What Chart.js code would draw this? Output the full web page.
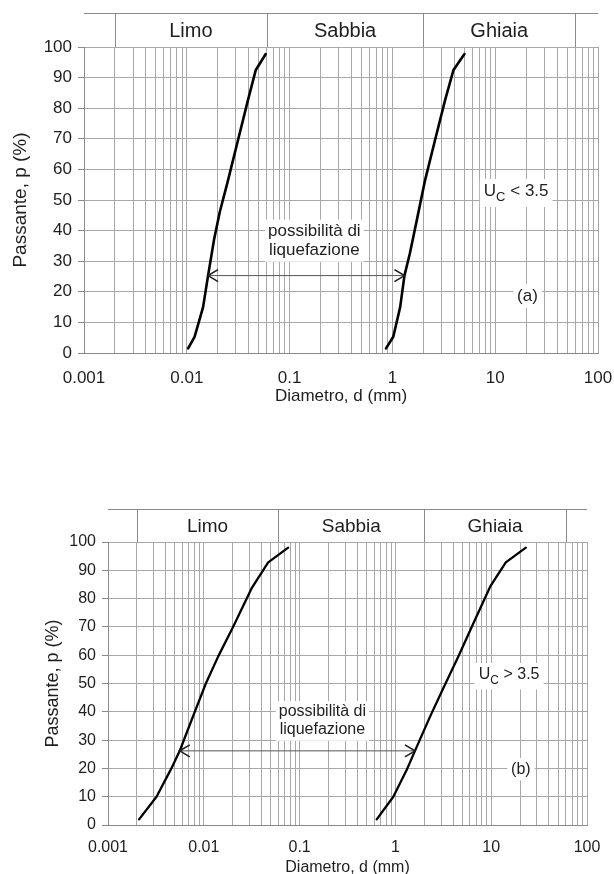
<!DOCTYPE html>
<html>
<head>
<meta charset="utf-8">
<script src="https://cdn.jsdelivr.net/npm/chart.js@4.4.1/dist/chart.umd.min.js"></script>
<style>
  html, body { margin: 0; padding: 0; background: #fff; overflow: hidden; }
  #wrap-a { position: absolute; left: 0; top: 0; width: 614px; height: 440px; }
  #wrap-b { position: absolute; left: 0; top: 440px; width: 614px; height: 440px; }
</style>
</head>
<body>
<div id="wrap-a"><canvas id="chart-a" width="614" height="440"></canvas></div>
<div id="wrap-b"><canvas id="chart-b" width="614" height="440"></canvas></div>
<script>
// asse x (log) e asse y
const xDecades = [0.001, 0.01, 0.1, 1, 10, 100];
const xTickLabels = ["0.001", "0.01", "0.1", "1", "10", "100"];
const xMinorSteps = [1, 2, 3, 4, 5, 6, 7, 8, 9];
const yTicks = [0, 10, 20, 30, 40, 50, 60, 70, 80, 90, 100];

// fasce granulometriche in testata
const classBounds = [0.002, 0.06, 2, 60];
const classNames = ["Limo", "Sabbia", "Ghiaia"];

// (a) Uc < 3.5 : fuso fine e fuso grosso
const aFineD = [0.0103, 0.0119, 0.0144, 0.0161, 0.0184, 0.0209, 0.0252, 0.0315, 0.0394, 0.0469, 0.0586];
const aFineP = [1.5, 5.3, 15, 25.3, 37, 46, 56.5, 69.6, 82.7, 92.5, 97.7];
const aCoarseD = [0.867, 1.02, 1.19, 1.31, 1.48, 1.73, 2.08, 2.6, 3.26, 3.93, 5.02];
const aCoarseP = [1.5, 5.3, 15, 25.3, 32.6, 43.5, 56.5, 69.6, 82.7, 92.5, 97.7];
const aArrowD = [0.0161, 1.31];
const aArrowP = 25.3;

// (b) Uc > 3.5
const bFineD = [0.00211, 0.00321, 0.00459, 0.00561, 0.00649, 0.00805, 0.0105, 0.0141, 0.0202, 0.0315, 0.047, 0.076];
const bFineP = [2, 10, 20, 26.2, 31.8, 40, 50, 59.5, 70, 83.6, 92.8, 98];
const bCoarseD = [0.638, 0.951, 1.31, 1.6, 2.3, 3.16, 4.54, 6.52, 9.75, 14.2, 23.0];
const bCoarseP = [2, 10, 19.4, 26.2, 38.3, 48.3, 59.5, 71.3, 84.2, 92.8, 98];
const bArrowD = [0.00561, 1.6];
const bArrowP = 26.2;

// testi
const liqLines = ["possibilità di", "liquefazione"];
const aUcRest = " < 3.5";
const bUcRest = " > 3.5";
const aTag = "(a)";
const bTag = "(b)";

const FONT = '"Liberation Sans", Arial, Helvetica, sans-serif';
const GRID = "#a8a8a8";
const AXIS = "#8a8a8a";
const INK = "#1e1e1e";

// griglia log: 1..9 per ogni decade + 100
const xGridValues = [];
xDecades.slice(0, -1).forEach((dec) => {
  xMinorSteps.forEach((k) => xGridValues.push(+(k * dec).toPrecision(6)));
});
xGridValues.push(xDecades[xDecades.length - 1]);

function decadeLabel(v) {
  const i = xDecades.findIndex((d) => Math.abs(d - v) / d < 1e-6);
  return i >= 0 ? xTickLabels[i] : "";
}

function pairs(ds, ps) {
  return ds.map((d, i) => ({ x: d, y: ps[i] }));
}

/** testata Limo / Sabbia / Ghiaia */
const classHeader = {
  id: "classHeader",
  afterDraw(chart, args, opts) {
    const { ctx, chartArea } = chart;
    const sx = chart.scales.x;
    const top = chartArea.top - opts.height;
    ctx.save();
    ctx.strokeStyle = AXIS;
    ctx.lineWidth = 1;
    ctx.beginPath();
    ctx.moveTo(chartArea.left, top + 0.5);
    ctx.lineTo(chartArea.right, top + 0.5);
    classBounds.forEach((b) => {
      const px = Math.round(sx.getPixelForValue(b)) + 0.5;
      ctx.moveTo(px, top);
      ctx.lineTo(px, chartArea.top);
    });
    ctx.stroke();
    ctx.fillStyle = INK;
    ctx.font = `${opts.fontSize}px ${FONT}`;
    ctx.textAlign = "center";
    ctx.textBaseline = "middle";
    classNames.forEach((name, i) => {
      const cx = (sx.getPixelForValue(classBounds[i]) + sx.getPixelForValue(classBounds[i + 1])) / 2;
      ctx.fillText(name, cx, top + opts.height / 2 + 1);
    });
    ctx.restore();
  },
};

/** frecce e scritte sopra il grafico */
const notes = {
  id: "notes",
  afterDatasetsDraw(chart, args, opts) {
    const { ctx } = chart;
    const sx = chart.scales.x;
    const sy = chart.scales.y;
    const fs = opts.fontSize;
    ctx.save();

    // punte di freccia aperte
    const ay = sy.getPixelForValue(opts.arrowP);
    const x0 = sx.getPixelForValue(opts.arrowD[0]);
    const x1 = sx.getPixelForValue(opts.arrowD[1]);
    ctx.strokeStyle = INK;
    ctx.lineWidth = 1.6;
    ctx.lineJoin = "miter";
    ctx.beginPath();
    ctx.moveTo(x0 + 10, ay - 6);
    ctx.lineTo(x0, ay);
    ctx.lineTo(x0 + 10, ay + 6);
    ctx.moveTo(x1 - 10, ay - 6);
    ctx.lineTo(x1, ay);
    ctx.lineTo(x1 - 10, ay + 6);
    ctx.stroke();

    ctx.font = `${fs}px ${FONT}`;
    ctx.textBaseline = "middle";
    ctx.textAlign = "left";

    // "possibilità di / liquefazione"
    const lh = fs * 1.12;
    const lcx = sx.getPixelForValue(opts.liqAt[0]);
    const lcy = sy.getPixelForValue(opts.liqAt[1]);
    const lw = Math.max(...liqLines.map((t) => ctx.measureText(t).width));
    ctx.fillStyle = "#fff";
    ctx.fillRect(lcx - lw / 2 - 3, lcy - lh - 2, lw + 6, lh * 2 + 4);
    ctx.fillStyle = INK;
    ctx.textAlign = "center";
    liqLines.forEach((t, i) => {
      ctx.fillText(t, lcx, lcy + (i - 0.5) * lh);
    });

    // U_C < 3.5
    const ucx = sx.getPixelForValue(opts.ucAt[0]);
    const ucy = sy.getPixelForValue(opts.ucAt[1]);
    const subFs = Math.round(fs * 0.78);
    ctx.textAlign = "left";
    const wU = ctx.measureText("U").width;
    const wR = ctx.measureText(opts.ucRest).width;
    ctx.font = `${subFs}px ${FONT}`;
    const wC = ctx.measureText("C").width;
    const tot = wU + wC + wR;
    let ux = ucx - tot / 2;
    ctx.fillStyle = "#fff";
    ctx.fillRect(ux - 4, ucy - fs * 0.75, tot + 8, fs * 1.65);
    ctx.fillStyle = INK;
    ctx.font = `${fs}px ${FONT}`;
    ctx.fillText("U", ux, ucy);
    ctx.font = `${subFs}px ${FONT}`;
    ctx.fillText("C", ux + wU, ucy + fs * 0.36);
    ctx.font = `${fs}px ${FONT}`;
    ctx.fillText(opts.ucRest, ux + wU + wC, ucy);

    // (a) / (b)
    const tx = sx.getPixelForValue(opts.tagAt[0]);
    const ty = sy.getPixelForValue(opts.tagAt[1]);
    const tw = ctx.measureText(opts.tag).width;
    ctx.fillStyle = "#fff";
    ctx.fillRect(tx - tw / 2 - 4, ty - fs * 0.7, tw + 8, fs * 1.4);
    ctx.fillStyle = INK;
    ctx.textAlign = "center";
    ctx.fillText(opts.tag, tx, ty);

    ctx.restore();
  },
};

function makeChart(canvasId, cfg) {
  const tickFont = { family: FONT, size: cfg.fontSize, lineHeight: 1.2 };
  const yTitleFont = { family: FONT, size: cfg.yTitleFont, lineHeight: 1.2 };
  const ctx = document.getElementById(canvasId).getContext("2d");
  return new Chart(ctx, {
    type: "scatter",
    data: {
      datasets: [
        {
          label: "fine",
          data: pairs(cfg.fineD, cfg.fineP),
          showLine: true,
          borderColor: "#000",
          borderWidth: cfg.curveWidth,
          pointRadius: 0,
          borderJoinStyle: "round",
          borderCapStyle: "round",
        },
        {
          label: "grosso",
          data: pairs(cfg.coarseD, cfg.coarseP),
          showLine: true,
          borderColor: "#000",
          borderWidth: cfg.curveWidth,
          pointRadius: 0,
          borderJoinStyle: "round",
          borderCapStyle: "round",
        },
        {
          label: "freccia",
          data: pairs(cfg.arrowD, cfg.arrowD.map(() => cfg.arrowP)),
          showLine: true,
          borderColor: "#555",
          borderWidth: 1,
          pointRadius: 0,
        },
      ],
    },
    options: {
      responsive: false,
      animation: false,
      devicePixelRatio: 1,
      layout: { padding: cfg.padding },
      scales: {
        x: {
          type: "logarithmic",
          position: "bottom",
          min: 0.001,
          max: 100,
          afterBuildTicks: (s) => {
            s.ticks = xGridValues.map((v) => ({ value: v }));
          },
          afterFit: (s) => {
            s.height = cfg.xAxisHeight;
            s.paddingLeft = 0;
            s.paddingRight = 0;
          },
          grid: {
            color: GRID,
            lineWidth: 1,
            drawTicks: true,
            tickLength: cfg.xTickGap,
            tickColor: "rgba(0,0,0,0)",
          },
          border: { display: true, color: AXIS },
          ticks: {
            autoSkip: false,
            maxRotation: 0,
            minRotation: 0,
            padding: 0,
            color: INK,
            font: tickFont,
            callback: (v) => decadeLabel(v),
          },
          title: {
            display: true,
            text: "Diametro, d (mm)",
            color: INK,
            font: tickFont,
            padding: { top: 0, bottom: 0 },
          },
        },
        y: {
          type: "linear",
          min: 0,
          max: 100,
          afterBuildTicks: (s) => {
            s.ticks = yTicks.map((v) => ({ value: v }));
          },
          afterFit: (s) => {
            s.width = cfg.yAxisWidth;
            s.paddingTop = 0;
            s.paddingBottom = 0;
          },
          grid: {
            color: GRID,
            lineWidth: 1,
            drawTicks: true,
            tickLength: 6,
            tickColor: AXIS,
          },
          border: { display: true, color: AXIS },
          ticks: {
            padding: 6,
            color: INK,
            font: tickFont,
            callback: (v) => String(v),
          },
          title: {
            display: true,
            text: "Passante, p (%)",
            color: INK,
            font: yTitleFont,
            padding: { top: cfg.yTitlePad, bottom: 0 },
          },
        },
      },
      plugins: {
        legend: { display: false },
        tooltip: { enabled: false },
        classHeader: { height: cfg.headerHeight, fontSize: cfg.headerFont },
        notes: {
          fontSize: cfg.fontSize,
          arrowD: cfg.arrowD,
          arrowP: cfg.arrowP,
          liqAt: cfg.liqAt,
          ucAt: cfg.ucAt,
          ucRest: cfg.ucRest,
          tagAt: cfg.tagAt,
          tag: cfg.tag,
        },
      },
    },
    plugins: [classHeader, notes],
  });
}

makeChart("chart-a", {
  fineD: aFineD, fineP: aFineP,
  coarseD: aCoarseD, coarseP: aCoarseP,
  arrowD: aArrowD, arrowP: aArrowP,
  liqAt: [0.174, 36.7],
  ucAt: [16.0, 52.7], ucRest: aUcRest,
  tagAt: [20.6, 18.6], tag: aTag,
  padding: { top: 47, right: 16, left: 0, bottom: 33 },
  yAxisWidth: 84, xAxisHeight: 54, xTickGap: 15,
  yTitleFont: 19, yTitlePad: 9,
  headerHeight: 34, headerFont: 20,
  fontSize: 17, curveWidth: 2.6,
});

makeChart("chart-b", {
  fineD: bFineD, fineP: bFineP,
  coarseD: bCoarseD, coarseP: bCoarseP,
  arrowD: bArrowD, arrowP: bArrowP,
  liqAt: [0.173, 36.8],
  ucAt: [15.4, 53.0], ucRest: bUcRest,
  tagAt: [20.4, 19.7], tag: bTag,
  padding: { top: 102, right: 27, left: 0, bottom: 3 },
  yAxisWidth: 108, xAxisHeight: 52, xTickGap: 13,
  yTitleFont: 18, yTitlePad: 42,
  headerHeight: 33, headerFont: 19,
  fontSize: 16, curveWidth: 2.3,
});
</script>
</body>
</html>
